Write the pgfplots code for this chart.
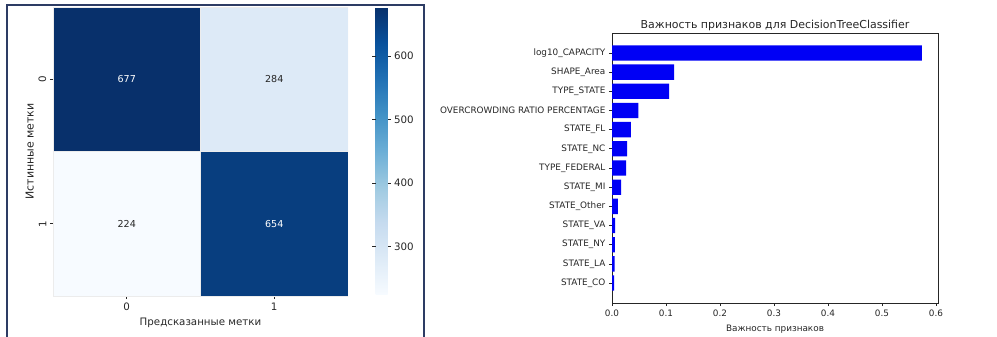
\documentclass[border=0pt]{standalone}
\usepackage{pgfplots}
\pgfplotsset{compat=1.18}
\usepackage{fontspec}
\setmainfont{DejaVu Sans}
\definecolor{framec}{RGB}{45,60,100}
\definecolor{txt}{RGB}{38,38,38}
\definecolor{barblue}{RGB}{0,0,245}
\pgfplotsset{
  colormap={mplblues}{rgb255=(247,251,255) rgb255=(222,235,247) rgb255=(198,219,239) rgb255=(158,202,225) rgb255=(107,174,214) rgb255=(66,146,198) rgb255=(33,113,181) rgb255=(8,81,156) rgb255=(8,48,107)},
}
\newcommand{\tf}{\fontsize{8.9}{10}\selectfont}
\newcommand{\lf}{\fontsize{10.3}{12}\selectfont}
\begin{document}
\begin{tikzpicture}
\useasboundingbox (0bp,0bp) rectangle (997bp,337bp);
\draw[framec, line width=1.2bp] (7bp,-5bp) rectangle (424bp,332bp);
\begin{axis}[
  at={(53bp,41bp)}, anchor=south west,
  scale only axis, width=295bp, height=289bp,
  xmin=-0.5, xmax=1.5, ymin=-0.5, ymax=1.5, y dir=reverse,
  enlargelimits=false,
  axis line style={draw=none},
  xtick={0,1}, ytick={0,1},
  xtick pos=bottom, ytick pos=left,
  tick align=outside, major tick length=3.1bp,
  tick style={txt, line width=0.7bp},
  ticklabel style={font=\lf, text=txt},
  yticklabel style={rotate=90, anchor=south},
  xlabel={Предсказанные метки}, ylabel={Истинные метки},
  label style={font=\lf, text=txt},
  xlabel style={yshift=-1bp},
  ylabel style={font=\fontsize{11}{13}\selectfont, yshift=-2bp},
  colormap name=mplblues,
  point meta min=224, point meta max=677,
  colorbar,
  colorbar style={at={(parent axis.north east)}, anchor=north west, xshift=19bp,
    scale only axis, width=12bp, height=288bp,
    ytick={300,400,500,600}, axis line style={draw=none},
    tick align=outside, major tick length=3.1bp,
    tick style={txt, line width=0.7bp},
    yticklabel style={font=\lf, text=txt},
    /pgf/number format/assume math mode=true},
  /pgf/number format/assume math mode=true,
]
\addplot[matrix plot*, mesh/cols=2, mesh/rows=2, point meta=explicit, draw=white!85!gray, line width=0.6bp] table[meta=c]{
x y c
0 0 677
1 0 284
0 1 224
1 1 654
};
\addplot[draw=none, mark=none, nodes near coords, point meta=explicit symbolic,
  nodes near coords style={font=\fontsize{9.6}{11}\selectfont, text=white, anchor=center}] table[meta=c]{
x y c
0 0 677
1 1 654
};
\addplot[draw=none, mark=none, nodes near coords, point meta=explicit symbolic,
  nodes near coords style={font=\fontsize{9.6}{11}\selectfont, text=txt, anchor=center}] table[meta=c]{
x y c
1 0 284
0 1 224
};
\end{axis}
\begin{axis}[
  at={(612bp,34bp)}, anchor=south west,
  scale only axis, width=326bp, height=270bp,
  xmin=0, xmax=0.6037, ymin=-1.04, ymax=13.04,
  xbar, bar width=0.8,
  ytick={0,1,2,3,4,5,6,7,8,9,10,11,12},
  yticklabels={STATE\_CO, STATE\_LA, STATE\_NY, STATE\_VA, STATE\_Other, STATE\_MI, TYPE\_FEDERAL, STATE\_NC, STATE\_FL, OVERCROWDING RATIO PERCENTAGE, TYPE\_STATE, SHAPE\_Area, log10\_CAPACITY},
  xtick={0,0.1,0.2,0.3,0.4,0.5,0.6},
  xticklabel style={/pgf/number format/.cd, fixed, fixed zerofill, precision=1},
  /pgf/number format/assume math mode=true,
  xtick pos=bottom, ytick pos=left,
  tick align=outside, major tick length=3.1bp,
  tick style={txt, line width=0.7bp},
  ticklabel style={font=\tf, text=txt},
  axis line style={black!85, line width=0.7bp},
  title={Важность признаков для DecisionTreeClassifier},
  title style={font=\fontsize{11}{13}\selectfont, text=txt, yshift=-7bp},
  xlabel={Важность признаков},
  label style={font=\tf, text=txt},
  xlabel style={yshift=-2bp},
]
\addplot[fill=barblue, draw=none] coordinates {(0.004,0) (0.005,1) (0.0055,2) (0.006,3) (0.011,4) (0.017,5) (0.026,6) (0.028,7) (0.035,8) (0.049,9) (0.106,10) (0.115,11) (0.574,12)};
\end{axis}
\end{tikzpicture}
\end{document}
